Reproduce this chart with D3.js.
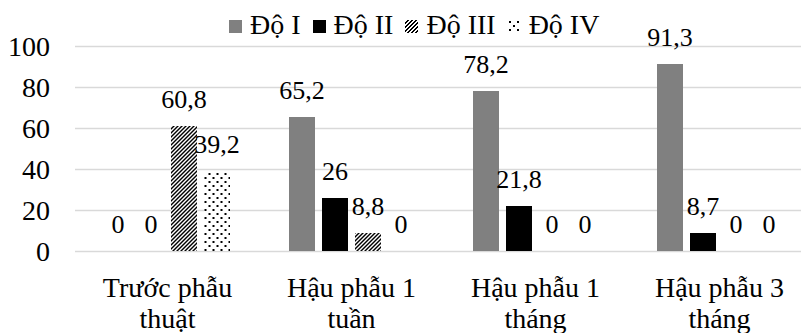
<!DOCTYPE html>
<html>
<head>
<meta charset="utf-8">
<script src="https://cdn.jsdelivr.net/npm/d3@7"></script>
<style>
  html, body { margin: 0; padding: 0; background: #fff; }
  svg, svg text { font-family: "Liberation Serif", "Times New Roman", Times, serif !important; }
</style>
</head>
<body>
<svg id="chart" width="801" height="333"></svg>
<script>
const categories = ["Trước phẫu thuật", "Hậu phẫu 1 tuần", "Hậu phẫu 1 tháng", "Hậu phẫu 3 tháng"];
const seriesNames = ["Độ I", "Độ II", "Độ III", "Độ IV"];
const doI   = [0, 65.2, 78.2, 91.3];
const doII  = [0, 26, 21.8, 8.7];
const doIII = [60.8, 8.8, 0, 0];
const doIV  = [39.2, 0, 0, 0];
const yTicks = [0, 20, 40, 60, 80, 100];

const seriesValues = [doI, doII, doIII, doIV];
const svg = d3.select("#chart");
const FONT = 28;
const LFONT = 26;
const FAM = "'Liberation Serif', 'Times New Roman', Times, serif";

// patterns (pixel patterns like Excel fills)
const defs = svg.append("defs");
const pIII = defs.append("pattern").attr("id", "patIII").attr("patternUnits", "userSpaceOnUse")
  .attr("width", 4).attr("height", 4);
pIII.append("rect").attr("width", 4).attr("height", 4).attr("fill", "#fff");
[0, 1, 2, 3].forEach(r => {
  [(3 - r + 4) % 4, (4 - r + 4) % 4].forEach(c => {
    pIII.append("rect").attr("x", c).attr("y", r).attr("width", 1).attr("height", 1)
      .attr("fill", "#000").attr("shape-rendering", "crispEdges");
  });
});
const pIV = defs.append("pattern").attr("id", "patIV").attr("patternUnits", "userSpaceOnUse")
  .attr("width", 8).attr("height", 8);
pIV.append("rect").attr("width", 8).attr("height", 8).attr("fill", "#fff");
[[1, 1], [5, 5]].forEach(([px, py]) => {
  pIV.append("rect").attr("x", px).attr("y", py).attr("width", 2).attr("height", 2)
    .attr("fill", "#000").attr("shape-rendering", "crispEdges");
});

const fills = ["#808080", "#000000", "url(#patIII)", "url(#patIV)"];

const y = d3.scaleLinear().domain([0, 100]).range([251, 46]);
const x0 = d3.scaleBand().domain(categories).range([75.5, 811.5]).paddingInner(0).paddingOuter(0);
const x1 = d3.scaleBand().domain(seriesNames).range([29.5, 154.5]).paddingInner(7 / 33).paddingOuter(0);

// gridlines
svg.append("g").selectAll("line").data(yTicks).join("line")
  .attr("x1", 75).attr("x2", 801)
  .attr("y1", d => Math.round(y(d)) + 0.5).attr("y2", d => Math.round(y(d)) + 0.5)
  .attr("stroke", "#d9d9d9").attr("stroke-width", 1.3);

// y axis
const yAxis = d3.axisLeft(y).tickValues(yTicks).tickSize(0).tickPadding(0);
const ga = svg.append("g").attr("transform", "translate(50,0)").call(yAxis);
ga.attr("font-family", null).attr("font-size", null);
ga.select(".domain").remove();
ga.selectAll("text").attr("font-size", FONT).style("font-family", FAM).attr("fill", "#000")
  .attr("dy", "0.34em");

// bars
const groups = svg.append("g").selectAll("g").data(categories).join("g")
  .attr("transform", d => `translate(${x0(d)},0)`);
const barData = (c, ci) => seriesNames.map((s, si) => ({ s, si, v: seriesValues[si][ci] }));
groups.each(function (c, ci) {
  const g = d3.select(this);
  const data = barData(c, ci);
  g.selectAll("rect").data(data).join("rect")
    .attr("x", d => x1(d.s)).attr("width", x1.bandwidth())
    .attr("y", d => y(d.v)).attr("height", d => y(0) - y(d.v))
    .attr("fill", d => fills[d.si]).attr("shape-rendering", "crispEdges");
  g.selectAll("text").data(data).join("text")
    .attr("x", d => x1(d.s) + x1.bandwidth() / 2)
    .attr("y", d => y(d.v) - 18)
    .attr("text-anchor", "middle").attr("font-size", LFONT).style("font-family", FAM).attr("fill", "#000")
    .text(d => String(d.v).replace(".", ","));
});

// x axis labels
const xl = svg.append("g").selectAll("text").data(categories).join("text")
  .attr("x", d => x0(d) + x0.bandwidth() / 2).attr("y", 297)
  .attr("text-anchor", "middle").attr("font-size", FONT).style("font-family", FAM).attr("fill", "#000");
xl.each(function (d) {
  const i = d.lastIndexOf(" ");
  const t = d3.select(this);
  t.append("tspan").attr("x", x0(d) + x0.bandwidth() / 2).text(d.slice(0, i));
  t.append("tspan").attr("x", x0(d) + x0.bandwidth() / 2).attr("dy", 31).text(d.slice(i + 1));
});

// legend
const leg = svg.append("g");
let lx = 229;
seriesNames.forEach((s, i) => {
  leg.append("rect").attr("x", lx).attr("y", 20).attr("width", 13).attr("height", 13)
    .attr("fill", fills[i]).attr("shape-rendering", "crispEdges");
  const t = leg.append("text").attr("x", lx + 21).attr("y", 34).attr("font-size", FONT)
    .style("font-family", FAM).attr("fill", "#000").text(s);
  lx = lx + 21 + t.node().getComputedTextLength() + 12;
});
</script>
</body>
</html>
